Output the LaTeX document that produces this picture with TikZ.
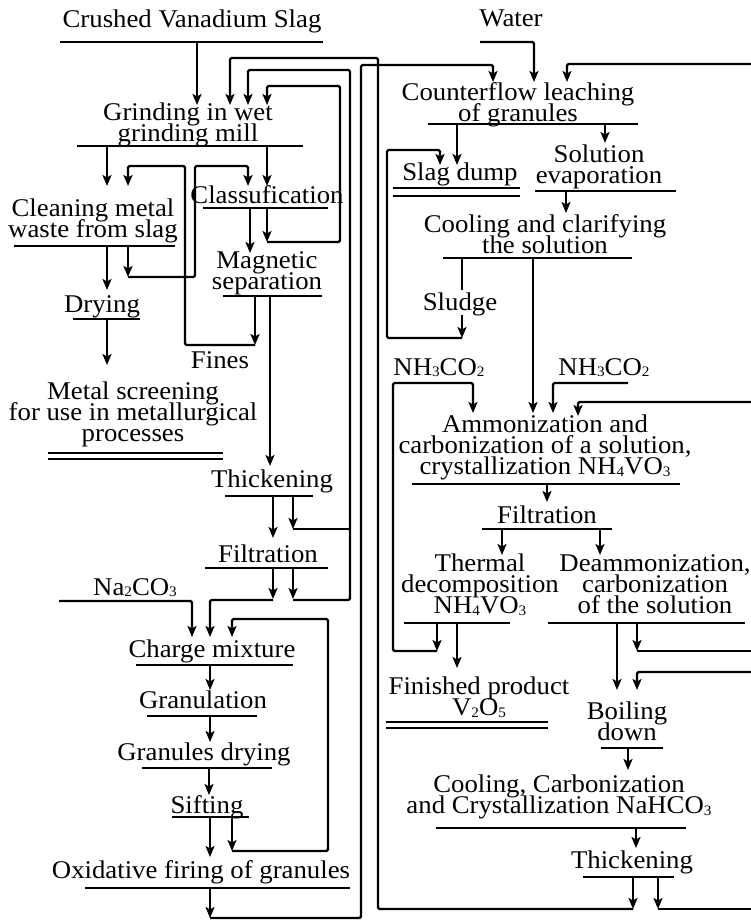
\documentclass[tikz,border=0pt]{standalone}
\usepackage{fontspec}
\setmainfont{Liberation Serif}[FakeStretch=1.05]
\usetikzlibrary{arrows.meta}
% small lowered digits for chemical formulas
\newcommand\chemsub[1]{\raisebox{-1.5pt}{\fontsize{14.5}{14.5}\selectfont #1}}
% label font: tight line spacing, lines may touch
\newcommand\lblfont{\fontsize{25.5}{21}\selectfont\lineskiplimit=-30pt\lineskip=0pt}
\begin{document}
\begin{tikzpicture}[x=1pt,y=-1pt,
  lbl/.style={anchor=north, inner sep=0pt, align=center, font=\lblfont},
  line/.style={line width=2.3pt, rounded corners=1.5pt},
  arr/.style={line, -{Stealth[length=11pt,width=9pt,inset=2.5pt]}},
  bar/.style={line width=2.3pt}]
\useasboundingbox (0,0) rectangle (751,921);
\fill[white] (0,0) rectangle (751,921);

% ---------- left column: slag preparation ----------
\node[lbl] (crush)   at (192,10)  {Crushed Vanadium Slag};
\node[lbl] (grind)   at (188,103) {Grinding in wet\\grinding mill};
\node[lbl] (clean)   at (93,199)  {Cleaning metal\\waste from slag};
\node[lbl] (classif) at (267,185) {Classufication};
\node[lbl] (magsep)  at (267,251) {Magnetic\\separation};
\node[lbl] (drying)  at (102,295) {Drying};
\node[lbl] (fines)   at (220,351) {Fines};
\node[lbl] (screen)  at (133,382) {Metal screening\\for use in metallurgical\\processes};
\node[lbl] (thickL)  at (272,470) {Thickening};
\node[lbl] (filtL)   at (268,545) {Filtration};
\node[lbl] (soda)    at (135,578) {Na\chemsub{2}CO\chemsub{3}};
\node[lbl] (charge)  at (212,640) {Charge mixture};
\node[lbl] (granul)  at (203,691) {Granulation};
\node[lbl] (gdry)    at (204,743) {Granules drying};
\node[lbl] (sift)    at (207,795) {Sifting};
\node[lbl] (oxid)    at (201,860) {Oxidative firing of granules};

% ---------- right column: leaching and precipitation ----------
\node[lbl] (water)   at (511,10)  {Water};
\node[lbl] (leach)   at (518,82)  {Counterflow leaching\\of granules};
\node[lbl] (dump)    at (460,163) {Slag dump};
\node[lbl] (evap)    at (599,145) {Solution\\evaporation};
\node[lbl] (clarify) at (545,214) {Cooling and clarifying\\the solution};
\node[lbl] (sludge)  at (460,293) {Sludge};
\node[lbl] (gasL)    at (439,358) {NH\chemsub{3}CO\chemsub{2}};
\node[lbl] (gasR)    at (604,358) {NH\chemsub{3}CO\chemsub{2}};
\node[lbl] (ammon)   at (545,415) {Ammonization and\\carbonization of a solution,\\crystallization NH\chemsub{4}VO\chemsub{3}};
\node[lbl] (filtR)   at (547,506) {Filtration};
\node[lbl] (thermal) at (480,554) {Thermal\\decomposition\\NH\chemsub{4}VO\chemsub{3}};
\node[lbl] (deamm)   at (655,554) {Deammonization,\\carbonization\\of the solution};
\node[lbl] (product) at (479,677) {Finished product\\V\chemsub{2}O\chemsub{5}};
\node[lbl] (boil)    at (627,702) {Boiling\\down};
\node[lbl] (cryst)   at (559,775) {Cooling, Carbonization\\and Crystallization NaHCO\chemsub{3}};
\node[lbl] (thickR)  at (632,851) {Thickening};

% ---------- underline bars ----------
\draw[bar] (60,42) -- (323,42);
\draw[bar] (77,146) -- (303,146);
\draw[bar] (14,246) -- (175,246);
\draw[bar] (203,208) -- (328,208);
\draw[bar] (223,296) -- (322,296);
\draw[bar] (73,319) -- (140,319);
\draw[bar] (48,453) -- (223,453);
\draw[bar] (48,459) -- (223,459);
\draw[bar] (225,496) -- (313,496);
\draw[bar] (205,568) -- (328,568);
\draw[bar] (136,665) -- (293,665);
\draw[bar] (147,716) -- (257,716);
\draw[bar] (142,768) -- (272,768);
\draw[bar] (172,817) -- (249,817);
\draw[bar] (85,888) -- (350,888);
\draw[bar] (428,124) -- (638,124);
\draw[bar] (393,188) -- (520,188);
\draw[bar] (393,196) -- (520,196);
\draw[bar] (535,191) -- (676,191);
\draw[bar] (443,258) -- (632,258);
\draw[bar] (412,484) -- (680,484);
\draw[bar] (482,529) -- (612,529);
\draw[bar] (404,623) -- (510,623);
\draw[bar] (548,623) -- (745,623);
\draw[bar] (386,722) -- (548,722);
\draw[bar] (386,728) -- (548,728);
\draw[bar] (601,748) -- (663,748);
\draw[bar] (436,828) -- (686,828);
\draw[bar] (583,877) -- (674,877);

% ---------- left column flows ----------
\draw[arr] (197,42) -- (197,105);
\draw[arr] (107,146) -- (107,186);
\draw[arr] (267,146) -- (267,186);
\draw[arr] (128,246) -- (128,277);
\draw[arr] (128,277) -- (195,277) -- (195,166) -- (248,166) -- (248,186);
\draw[arr] (255,296) -- (255,345);
\draw[arr] (255,345) -- (185,345) -- (185,166) -- (128,166) -- (128,186);
\draw[arr] (250,208) -- (250,253);
\draw[arr] (267,208) -- (267,242);
\draw[arr] (267,242) -- (340,242) -- (340,86) -- (267,86) -- (267,105);
\draw[arr] (107,246) -- (107,290);
\draw[arr] (107,319) -- (107,365);
\draw[arr] (270,296) -- (270,466);
\draw[arr] (273,496) -- (273,538);
\draw[arr] (293,496) -- (293,529);
\draw[line] (293,529) -- (350,529);
\draw[arr] (273,568) -- (273,599);
\draw[arr] (273,600) -- (210,600) -- (210,637);
\draw[arr] (293,568) -- (293,599);
\draw[arr] (293,600) -- (350,600) -- (350,70) -- (248,70) -- (248,105);
\draw[arr] (59,601) -- (192,601) -- (192,637);
\draw[arr] (210,665) -- (210,690);
\draw[arr] (210,716) -- (210,742);
\draw[arr] (209,768) -- (209,795);
\draw[arr] (210,817) -- (210,857);
\draw[arr] (232,817) -- (232,851);
\draw[arr] (232,851) -- (328,851) -- (328,619) -- (232,619) -- (232,637);
\draw[arr] (210,888) -- (210,918);
\draw[arr] (210,918) -- (361,918) -- (361,65) -- (493,65) -- (493,82);

% ---------- right column flows ----------
\draw[arr] (480,42) -- (534,42) -- (534,82);
\draw[arr] (751,64) -- (567,64) -- (567,82);
\draw[arr] (457,124) -- (457,165);
\draw[arr] (605,124) -- (605,143);
\draw[line] (462,258) -- (462,290);
\draw[arr] (462,315) -- (462,338);
\draw[arr] (462,338) -- (387,338) -- (387,150) -- (440,150) -- (440,165);
\draw[arr] (566,191) -- (566,213);
\draw[arr] (533,258) -- (533,413);
\draw[arr] (437,623) -- (437,651);
\draw[arr] (437,651) -- (393,651) -- (393,383) -- (473,383) -- (473,413);
\draw[arr] (628,383) -- (553,383) -- (553,413);
\draw[arr] (751,402) -- (578,402) -- (578,416);
\draw[arr] (547,484) -- (547,502);
\draw[arr] (502,529) -- (502,555);
\draw[arr] (600,529) -- (600,555);
\draw[arr] (457,623) -- (457,668);
\draw[arr] (617,623) -- (617,690);
\draw[arr] (637,623) -- (637,651);
\draw[line] (637,651) -- (751,651);
\draw[arr] (751,672) -- (637,672) -- (637,690);
\draw[arr] (628,748) -- (628,770);
\draw[arr] (636,828) -- (636,848);
\draw[arr] (633,877) -- (633,909);
\draw[arr] (633,909) -- (378,909) -- (378,58) -- (230,58) -- (230,105);
\draw[arr] (658,877) -- (658,909);
\draw[line] (658,909) -- (751,909);
\end{tikzpicture}
\end{document}
